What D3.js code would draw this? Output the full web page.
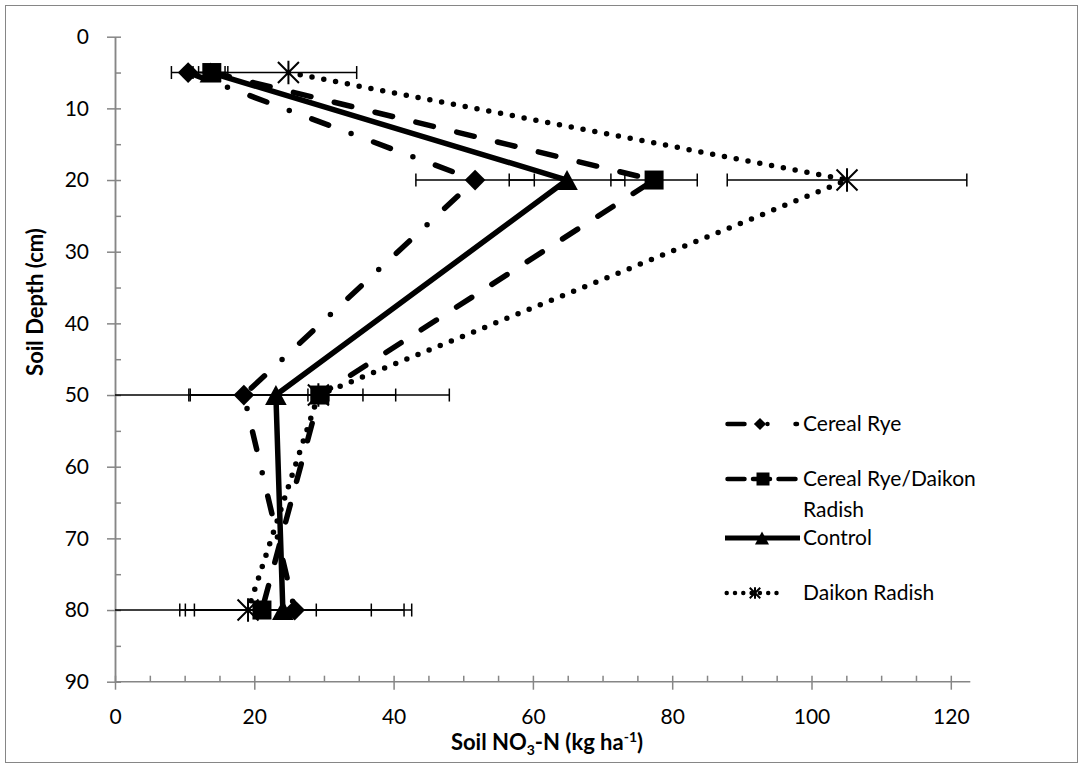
<!DOCTYPE html>
<html>

<head>
    <meta charset="UTF-8">
    <style>
        body {
            margin: 0;
            background: #fff;
        }

        text {
            font-family: Lato, "Open Sans", sans-serif;
            font-size: 21px;
            fill: #000;
        }

        .axis path,
        .axis line {
            stroke: #868686;
            stroke-width: 1.5px;
        }
    </style>
</head>

<body>
    <svg></svg>

    <script src="https://d3js.org/d3.v7.min.js"></script>

    <script>
        // depth rows (cm) and the four treatments
        const depths = [5, 20, 50, 80];
        const seriesNames = ["Cereal Rye", "Cereal Rye/Daikon Radish", "Control", "Daikon Radish"];

        // soil NO3-N means and error bar half widths (kg/ha), one value per depth
        const cerealRye = [10.5, 51.7, 18.5, 25.8];
        const cerealRyeErr = [2.4, 8.5, 21.8, 15.7];
        const ryeRadish = [13.9, 77.4, 29.4, 21.1];
        const ryeRadishErr = [1.9, 6.2, 18.6, 21.5];
        const control = [13.7, 64.9, 23.1, 24.1];
        const controlErr = [2.5, 8.3, 12.5, 12.7];
        const daikon = [24.9, 105.1, 29.2, 19.1];
        const daikonErr = [9.8, 17.2, 1.5, 9.8];

        const xTicks = [0, 20, 40, 60, 80, 100, 120];
        const yTicks = [0, 10, 20, 30, 40, 50, 60, 70, 80, 90];

        let width = 1083, height = 768;

        let svg = d3.select("svg")
            .attr("width", width)
            .attr("height", height);

        let x = d3.scaleLinear().domain([0, 120]).range([115, 950.8]);
        let y = d3.scaleLinear().domain([0, 90]).range([36.7, 681.7]);
        const xAxisEnd = 122.8; // the horizontal axis line runs a bit past 120

        // marker shapes (size = box width squared)
        const symDiamond = {
            draw(ctx, size) {
                const r = Math.sqrt(size) / 2;
                ctx.moveTo(0, -r); ctx.lineTo(r, 0); ctx.lineTo(0, r); ctx.lineTo(-r, 0); ctx.closePath();
            }
        };
        const symSquare = {
            draw(ctx, size) {
                const r = Math.sqrt(size) / 2;
                ctx.rect(-r, -r, 2 * r, 2 * r);
            }
        };
        const symTriangle = {
            draw(ctx, size) {
                const r = Math.sqrt(size) / 2;
                ctx.moveTo(0, -r); ctx.lineTo(r * 1.08, r); ctx.lineTo(-r * 1.08, r); ctx.closePath();
            }
        };
        const symStar = {
            draw(ctx, size) {
                const r = Math.sqrt(size) / 2;
                ctx.moveTo(-r, -r); ctx.lineTo(r, r);
                ctx.moveTo(r, -r); ctx.lineTo(-r, r);
                ctx.moveTo(0, -r * 1.12); ctx.lineTo(0, r * 1.12);
            }
        };

        let series = [
            { name: seriesNames[0], values: cerealRye, errors: cerealRyeErr, dash: "18,24,0,24", symbol: symDiamond, size: 428 },
            { name: seriesNames[1], values: ryeRadish, errors: ryeRadishErr, dash: "18,24", symbol: symSquare, size: 361 },
            { name: seriesNames[2], values: control, errors: controlErr, dash: null, symbol: symTriangle, size: 400 },
            { name: seriesNames[3], values: daikon, errors: daikonErr, dash: "0,12", symbol: symStar, size: 441 }
        ];

        // legend samples are drawn a little finer than the plot lines
        let legendStyle = [
            { dash: "17,23,0,28", x1: 727.5, x2: 797, mx: 760, size: 150 },
            { dash: "17,8.5", x1: 727.5, x2: 798, mx: 763, size: 169 },
            { dash: null, x1: 725, x2: 800, mx: 762, size: 169 },
            { dash: "0,8.3", x1: 726.7, x2: 780, mx: 755, size: 110 }
        ];

        // chart frame
        svg.append("rect")
            .attr("x", 5.5).attr("y", 5.5)
            .attr("width", width - 11).attr("height", height - 11)
            .attr("fill", "none")
            .attr("stroke", "#868686")
            .attr("stroke-width", 1);

        // y axis: major ticks cross, minor ticks inside
        svg.append("g")
            .attr("class", "axis")
            .attr("transform", "translate(" + x(0) + ",0)")
            .call(d3.axisLeft(y).tickValues(yTicks).tickSize(8).tickSizeOuter(0).tickPadding(18))
            .call(g => g.attr("font-size", null).attr("font-family", null));

        svg.append("g")
            .attr("class", "axis")
            .attr("transform", "translate(" + x(0) + ",0)")
            .call(d3.axisRight(y).tickValues(d3.range(0, 91, 5)).tickSize(6).tickSizeOuter(0).tickFormat(""));

        // x axis
        let xAxisG = svg.append("g")
            .attr("class", "axis")
            .attr("transform", "translate(0," + y(90) + ")")
            .call(d3.axisBottom(x).tickValues(xTicks).tickSize(8).tickSizeOuter(0).tickPadding(19))
            .call(g => g.attr("font-size", null).attr("font-family", null))
            .call(g => g.select(".domain").remove());

        svg.append("g")
            .attr("class", "axis")
            .attr("transform", "translate(0," + y(90) + ")")
            .call(d3.axisTop(x).tickValues(d3.range(0, 121, 5)).tickSize(6).tickSizeOuter(0).tickFormat(""))
            .call(g => g.select(".domain").remove());

        xAxisG.append("line")
            .attr("x1", x(0)).attr("x2", x(xAxisEnd))
            .attr("y1", 0).attr("y2", 0);

        // error bars, clipped at the axes
        let errG = svg.append("g").attr("stroke", "#000").attr("stroke-width", 1.5);
        series.forEach(s => {
            depths.forEach((dep, i) => {
                let lo = s.values[i] - s.errors[i], hi = s.values[i] + s.errors[i];
                let yy = y(dep);
                errG.append("line")
                    .attr("x1", x(Math.max(lo, 0))).attr("x2", x(Math.min(hi, xAxisEnd)))
                    .attr("y1", yy).attr("y2", yy);
                [lo, hi].forEach(v => {
                    if (v >= 0 && v <= xAxisEnd) {
                        errG.append("line")
                            .attr("x1", x(v)).attr("x2", x(v))
                            .attr("y1", yy - 6.5).attr("y2", yy + 6.5);
                    }
                });
            });
        });

        // series lines
        let line = d3.line()
            .x(d => x(d))
            .y((d, i) => y(depths[i]));

        svg.append("g")
            .selectAll("path")
            .data(series)
            .enter()
            .append("path")
            .attr("d", d => line(d.values))
            .attr("fill", "none")
            .attr("stroke", "#000")
            .attr("stroke-width", 5.5)
            .attr("stroke-linecap", d => d.dash ? "round" : "butt")
            .attr("stroke-linejoin", "round")
            .attr("stroke-dasharray", d => d.dash);

        // markers: control goes under the rye/radish squares
        let markerOrder = [series[0], series[2], series[1], series[3]];
        markerOrder.forEach(s => {
            svg.append("g")
                .selectAll("path")
                .data(s.values)
                .enter()
                .append("path")
                .attr("transform", (d, i) => "translate(" + x(d) + "," + y(depths[i]) + ")")
                .attr("d", d3.symbol().type(s.symbol).size(s.size))
                .attr("fill", s.symbol === symStar ? "none" : "#000")
                .attr("stroke", "#000")
                .attr("stroke-width", s.symbol === symStar ? 2 : 0);
        });

        // legend
        let legendY = [424, 479, 538, 593];
        let legend = svg.append("g");
        series.forEach((s, i) => {
            let ls = legendStyle[i];
            let g = legend.append("g").attr("transform", "translate(0," + legendY[i] + ")");
            g.append("line")
                .attr("x1", ls.x1).attr("x2", ls.x2)
                .attr("y1", 0).attr("y2", 0)
                .attr("stroke", "#000")
                .attr("stroke-width", ls.dash ? 4.5 : 5)
                .attr("stroke-linecap", ls.dash ? "round" : "butt")
                .attr("stroke-dasharray", ls.dash);
            g.append("path")
                .attr("transform", "translate(" + ls.mx + ",0)")
                .attr("d", d3.symbol().type(s.symbol).size(ls.size))
                .attr("fill", s.symbol === symStar ? "none" : "#000")
                .attr("stroke", "#000")
                .attr("stroke-width", s.symbol === symStar ? 2 : 0);
            let words = s.name === "Cereal Rye/Daikon Radish" ? ["Cereal Rye/Daikon", "Radish"] : [s.name];
            words.forEach((w, k) => {
                g.append("text")
                    .attr("x", 803)
                    .attr("y", k * 31)
                    .attr("dy", "0.35em")
                    .text(w);
            });
        });

        // axis titles
        svg.append("text")
            .attr("transform", "translate(35,302) rotate(-90)")
            .attr("text-anchor", "middle")
            .attr("dy", "0.35em")
            .style("font-weight", "bold")
            .style("font-size", "22px")
            .text("Soil Depth (cm)");

        let xTitle = svg.append("text")
            .attr("x", 547)
            .attr("y", 742)
            .attr("dy", "0.35em")
            .attr("text-anchor", "middle")
            .style("font-weight", "bold")
            .style("font-size", "22px");
        xTitle.append("tspan").text("Soil NO");
        xTitle.append("tspan").attr("dy", 5).style("font-size", "14px").text("3");
        xTitle.append("tspan").attr("dy", -5).text("-N (kg ha");
        xTitle.append("tspan").attr("dy", -8).style("font-size", "14px").text("-1");
        xTitle.append("tspan").attr("dy", 8).text(")");
    </script>

</body>

</html>
